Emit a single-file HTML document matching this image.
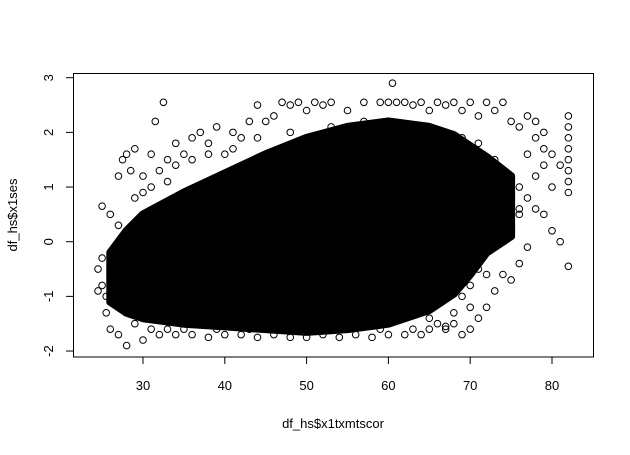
<!DOCTYPE html>
<html><head><meta charset="utf-8"><style>
body{margin:0;background:#fff}
svg text{font-family:"Liberation Sans",Arial,sans-serif;font-size:13px;fill:#000}
</style></head><body>
<svg id="chart" width="630" height="450" xmlns="http://www.w3.org/2000/svg">
<rect x="73.5" y="73.5" width="520" height="283.5" fill="none" stroke="#000" stroke-width="1"/>
<g id="axes"></g>
<g id="cloud"></g>
<g id="pts"></g>
<text x="333" y="428" text-anchor="middle">df_hs$x1txmtscor</text>
<text x="17" y="215" text-anchor="middle" transform="rotate(-90 17 215)">df_hs$x1ses</text>
</svg>
<script>
const xTicks=[30,40,50,60,70,80];
const yTicks=[-2,-1,0,1,2,3];
// dense core envelope of the point cloud
const coreX=[26,28,30,35,40,45,50,55,60,65,68,70,72,75];
const coreLo=[-1.1,-1.3,-1.4,-1.5,-1.55,-1.6,-1.65,-1.6,-1.5,-1.25,-0.95,-0.6,-0.2,0.1];
const coreHi=[-0.2,0.2,0.5,0.9,1.25,1.6,1.9,2.1,2.2,2.1,1.95,1.75,1.55,1.2];
// individual points (outer region)
const px=[24.5,25,25,26,26,25.5,27,27.5,28,28.5,27,28,29,30,31,31.5,32.5,33,34,35,36,37,38,39,40,41,42,43,44,45,46,47,48,49,50,51,52,53,55,57,59,60,60.5,61,62,63,64,65,66,67,68,69,70,71,72,73,74,75,76,77,78,79,80,79,78,77,76,75,74,73,72,71,70,69,68,67,66,65,64,62,60,58,56,54,52,50,48,46,44,42,40,38,36,34,32,30,29,31,33,35,39,43,47,51,55,59,63,82,82,82,82,82,82,82,82,82,81,80,79,78,77,76,75,74,73,72,71,70,69,66,80,81,79,78,77,76,25,26,27,24.5,25.5,29,30,31,32,33,34,36,38,41,44,48,53,57,62,66,69,71,73,74,75,76,72,70,68,67,65];
const py=[-0.5,-0.3,0.65,0.5,-1.6,-1.0,1.2,1.5,1.6,1.3,-1.7,-1.9,1.7,1.2,1.6,2.2,2.55,1.5,1.8,1.6,1.9,2.0,1.8,2.1,1.6,2.0,1.9,2.2,2.5,2.2,2.3,2.55,2.5,2.55,2.4,2.55,2.5,2.55,2.4,2.55,2.55,2.55,2.9,2.55,2.55,2.5,2.55,2.4,2.55,2.5,2.55,2.4,2.55,2.3,2.55,2.4,2.55,2.2,2.1,2.3,1.9,2.0,1.6,1.4,1.2,0.8,0.5,0.3,1.0,0.6,-0.2,-0.5,-0.8,-1.0,-1.3,-1.6,-1.0,-1.4,-1.7,-1.7,-1.7,-1.75,-1.7,-1.75,-1.7,-1.75,-1.75,-1.7,-1.75,-1.7,-1.7,-1.75,-1.7,-1.7,-1.7,-1.8,-1.5,-1.6,-1.6,-1.6,-1.6,-1.6,-1.6,-1.6,-1.6,-1.6,-1.6,2.3,2.1,1.9,1.7,1.5,1.3,1.1,0.9,-0.45,0.0,0.2,0.5,0.6,-0.1,-0.4,-0.7,-0.6,-0.9,-1.2,-1.4,-1.6,-1.7,-1.5,1.0,1.4,1.7,2.2,1.6,1.0,-0.8,-0.2,0.3,-0.9,-1.3,0.8,0.9,1.0,1.3,1.1,1.4,1.5,1.6,1.7,1.9,2.0,2.1,2.2,2.1,2.0,1.9,1.8,1.5,1.2,0.9,0.6,-0.6,-1.2,-1.5,-1.55,-1.6];
const X=v=>143+(v-30)*(552-143)/50;
const Y=v=>241.7-v*(241.7-77.7)/3;
const NS="http://www.w3.org/2000/svg";
const ax=document.getElementById('axes');
function mk(tag,attrs,parent){const e=document.createElementNS(NS,tag);for(const k in attrs)e.setAttribute(k,attrs[k]);parent.appendChild(e);return e;}
mk('line',{x1:X(30),x2:X(80),y1:357,y2:357,stroke:'#000'},ax);
xTicks.forEach(t=>{
  const l=mk('line',{x1:X(t),x2:X(t),y1:357,y2:364,stroke:'#000'},ax);
  
  
  const tx=mk('text',{x:X(t),y:390,'text-anchor':'middle'},ax);tx.textContent=t;
  
  
});
const yl=mk('line',{x1:73.5,x2:73.5,y1:Y(-2),y2:Y(3),stroke:'#000'},ax);

yTicks.forEach(t=>{
  const l=mk('line',{x1:66,x2:73.5,y1:Y(t),y2:Y(t),stroke:'#000'},ax);
  
  
  const tx=mk('text',{x:53,y:Y(t),'text-anchor':'middle',transform:`rotate(-90 53 ${Y(t)})`},ax);tx.textContent=t;
  
  
});
const cl=document.getElementById('cloud');
let d='';
coreX.forEach((x,i)=>{d+=(i?'L':'M')+X(x)+','+Y(coreHi[i]);});
for(let i=coreX.length-1;i>=0;i--)d+='L'+X(coreX[i])+','+Y(coreLo[i]);
const p=mk('path',{d:d+'Z',fill:'#000',stroke:'#000','stroke-width':8,'stroke-linejoin':'round'},cl);


const pg=document.getElementById('pts');
px.forEach((x,i)=>{
  const c=mk('circle',{cx:X(x),cy:Y(py[i]),r:3.3,fill:'none',stroke:'#000','stroke-width':1},pg);
  
  
});
</script>
</body></html>
